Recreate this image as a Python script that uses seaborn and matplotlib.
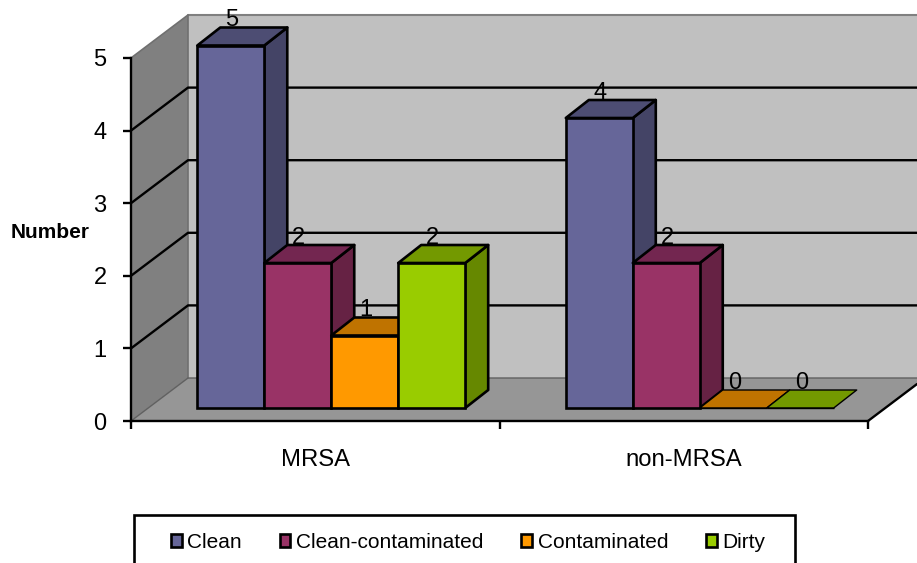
import matplotlib
matplotlib.use("Agg")
import matplotlib.pyplot as plt
from matplotlib.patches import Polygon, Rectangle
import seaborn as sns
import pandas as pd

groups = ["MRSA", "non-MRSA"]
series = ["Clean", "Clean-contaminated", "Contaminated", "Dirty"]
clean = [5, 4]
clean_contaminated = [2, 2]
contaminated = [1, 0]
dirty = [2, 0]
front_colors = ["#666699", "#993366", "#FF9900", "#99CC00"]
top_colors = ["#4D4D73", "#732650", "#BF7300", "#739900"]
side_colors = ["#444466", "#662244", "#AA6600", "#668800"]
y_ticks = [0, 1, 2, 3, 4, 5]

W, H = 917, 563
sns.set_style("white")
plt.rcParams["font.family"] = ["Liberation Sans", "DejaVu Sans"]
plt.rcParams["text.color"] = "black"
plt.rcParams["xtick.color"] = "black"
plt.rcParams["ytick.color"] = "black"
plt.rcParams["axes.edgecolor"] = "black"
plt.rcParams["axes.labelcolor"] = "black"
fig = plt.figure(figsize=(W / 100, H / 100), dpi=100, facecolor="white")


def axpos(l, t, r, b):
    return [l / W, 1 - b / H, (r - l) / W, (b - t) / H]


# background pixel-space layer
bg = fig.add_axes([0, 0, 1, 1], zorder=0)
bg.set_xlim(0, W); bg.set_ylim(H, 0); bg.axis("off")
DX, DY = 57, 43
X0, X1, Y0, Y5 = 131, 868, 421, 58
unit = (Y0 - Y5) / 5
bg.add_patch(Polygon([(X0, Y0), (X0, Y5), (X0 + DX, Y5 - DY), (X0 + DX, Y0 - DY)],
                     fc="#808080", ec="none"))
bg.add_patch(Polygon([(X0 + DX, Y5 - DY), (W, Y5 - DY), (W, Y0 - DY), (X0 + DX, Y0 - DY)],
                     fc="#C0C0C0", ec="none"))
bg.add_patch(Polygon([(X0, Y0), (X1, Y0), (X1 + DX, Y0 - DY), (X0 + DX, Y0 - DY)],
                     fc="#969696", ec="none"))
bg.plot([X0 + DX, W], [Y5 - DY, Y5 - DY], color="#808080", lw=1.5)
bg.plot([X0, X0 + DX, X0 + DX], [Y5, Y5 - DY, Y0 - DY], color="#707070", lw=1.2)
bg.plot([X0, X0 + DX, W], [Y0, Y0 - DY, Y0 - DY], color="#606060", lw=1)
for t in y_ticks[1:-1]:
    y = Y0 - t * unit
    bg.plot([X0, X0 + DX, W], [y, y - DY, y - DY], color="black", lw=1.7)
bg.plot([X1, W], [Y0, Y0 - (W - X1) * DY / DX], color="black", lw=1.7)

# main axis: ticks and category labels
ax = fig.add_axes(axpos(X0, Y5, X1, Y0), zorder=1)
ax.patch.set_alpha(0)
ax.set_xlim(0, 2); ax.set_ylim(0, 5)
ax.set_xticks([0, 1, 2]); ax.set_xticklabels([])
ax.set_yticks(y_ticks)
ax.tick_params(axis="y", length=6, width=1.7, labelsize=17, pad=11.5, left=True)
ax.tick_params(axis="x", length=6, width=1.7, bottom=True)
for s in ["top", "right"]:
    ax.spines[s].set_visible(False)
ax.spines["left"].set_linewidth(1.7)
ax.spines["bottom"].set_linewidth(1.7)
for i, g in enumerate(groups):
    fig.text((X0 + (X1 - X0) * (i + 0.5) / 2) / W, 1 - 460 / H, g, ha="center", va="center", fontsize=17.2)
fig.text(50 / W, 1 - 232 / H, "Number", ha="center", va="center", fontsize=15, fontweight="bold")

# bars drawn by seaborn
bar_ax = fig.add_axes(axpos(X0 + 16, 45.5, X1 + 16, 408), zorder=2)
bar_ax.patch.set_alpha(0)
df = pd.DataFrame({
    "group": groups * 4,
    "series": [s for s in series for _ in groups],
    "value": clean + clean_contaminated + contaminated + dirty,
})
sns.barplot(data=df, x="group", y="value", hue="series", hue_order=series, order=groups,
            palette=front_colors, width=0.727, gap=0, saturation=1, legend=False,
            edgecolor="black", linewidth=1.9, ax=bar_ax)
bar_ax.set_xlim(-0.5, 1.5); bar_ax.set_ylim(0, 5)
bar_ax.axis("off")

# 3-D sides derived from each bar
px_x = 2 / (X1 - X0)
px_y = 5 / (408 - 45.5)
dx, dy = 23 * px_x, 18 * px_y
z = 3
for c_i, cont in enumerate(bar_ax.containers):
    for patch, val in zip(cont.patches, cont.datavalues):
        x0 = patch.get_x(); x1 = x0 + patch.get_width(); h = patch.get_height()
        patch.set_zorder(z + 2 + c_i * 3)
        patch.set_clip_on(False)
        kw = dict(ec="black", lw=1.9 if h > 0 else 1.0, joinstyle="round", clip_on=False, zorder=z + c_i * 3)
        if h > 0:
            bar_ax.add_patch(Polygon([(x1, 0), (x1, h), (x1 + dx, h + dy), (x1 + dx, dy)],
                                     fc=side_colors[c_i], **kw))
        else:
            patch.set_linewidth(1.0)
        bar_ax.add_patch(Polygon([(x0, h), (x1, h), (x1 + dx, h + dy), (x0 + dx, h + dy)],
                                 fc=top_colors[c_i], **kw))
        bar_ax.text((x0 + x1) / 2 + 1 * px_x, h + dy + 7 * px_y, f"{val:.0f}", ha="center", va="center",
                    fontsize=17, zorder=40, clip_on=False)

# legend
handles = [Rectangle((0, 0), 1, 1, fc=c, ec="black", lw=1.9) for c in front_colors]
lg = fig.legend(handles, series, loc="upper left", bbox_to_anchor=(155 / W, 1 - 517 / H),
                borderaxespad=0, ncol=4, frameon=False,
                fontsize=15.0, handlelength=0.52, handleheight=0.52, handletextpad=0.28,
                columnspacing=1.8, borderpad=0.76)
lg.set_zorder(10)
bg.add_patch(Rectangle((134, 515), 795 - 134, 60, fc="white", ec="black", lw=1.9, clip_on=True))
fig.savefig("out.png", dpi=100)
